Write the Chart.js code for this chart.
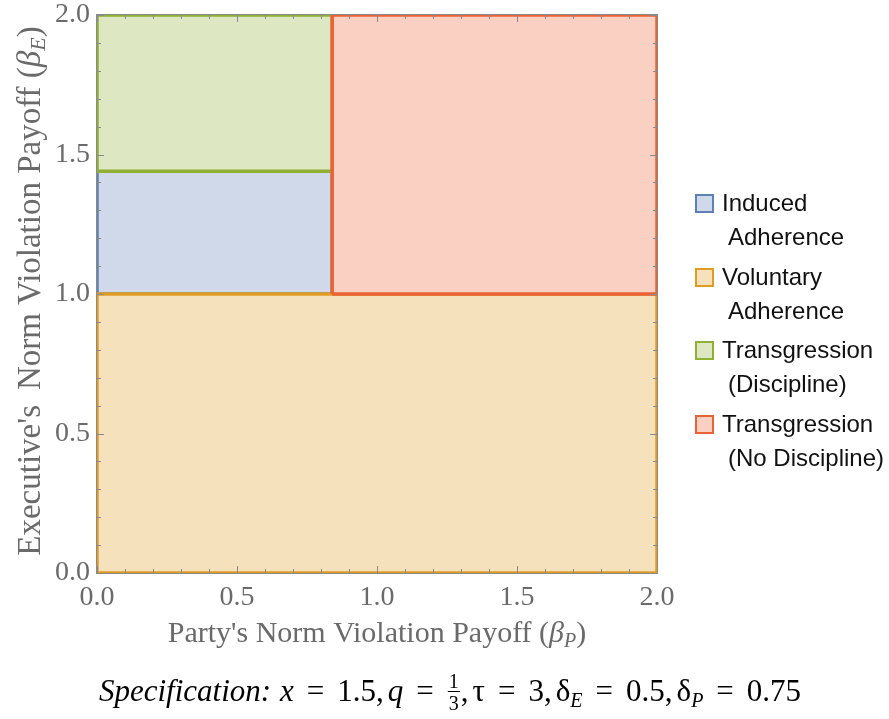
<!DOCTYPE html>
<html>
<head>
<meta charset="utf-8">
<script src="https://cdn.jsdelivr.net/npm/chart.js@4/dist/chart.umd.min.js"></script>
<style>
	html, body { margin: 0; padding: 0; background: #fff; }
	.wrap { position: relative; width: 889px; height: 719px; }
	.wrap canvas { position: absolute; left: 0; top: 0; }
	.legend__item { position: absolute; left: 695px; font: 24px "Liberation Sans", Arial, sans-serif; color: #111; line-height: 34px; }
	.legend__box { position: absolute; left: 0; top: 8px; width: 15px; height: 15px; border: 2px solid; }
	.legend__line { padding-left: 27px; white-space: nowrap; }
	.legend__line + .legend__line { padding-left: 33px; }
</style>
</head>
<body>
<div class="wrap">
	<canvas id="chart" width="889" height="719"></canvas>
	<div class="legend"></div>
</div>
<script>
	// Границы областей (из картинки)
	const AXIS_MAX = 2.0;
	const BETA_P_CUT = 0.84;
	const BETA_E_CUTS = [1.0, 1.44];

	const REGION_NAMES = [['Induced', 'Adherence'], ['Voluntary', 'Adherence'], ['Transgression', '(Discipline)'], ['Transgression', '(No Discipline)']];
	const REGION_X = [
		[0, 0.84, 0.84, 0, 0],
		[0, 2, 2, 0, 0],
		[0, 0.84, 0.84, 0, 0],
		[0.84, 2, 2, 0.84, 0.84]
	];
	const REGION_Y = [
		[1, 1, 1.44, 1.44, 1],
		[0, 0, 1, 1, 0],
		[1.44, 1.44, 2, 2, 1.44],
		[1, 1, 2, 2, 1]
	];
	const REGION_ORDER = [3, 2, 1, 0];

	const LINE_COLORS = ['#5e81b5', '#e19c24', '#8fb032', '#eb6235'];
	const FILL_COLORS = ['#cfd9e9', '#f6e1bd', '#dde7c1', '#f9d0c2'];

	const SERIF = '"Liberation Serif", "Times New Roman", serif';

	let datasets = REGION_NAMES.map((name, index) => ({
		label: name.join(' '),
		data: REGION_X[index].map((x, i) => ({ x: x, y: REGION_Y[index][i] })),
		showLine: true,
		fill: 'shape',
		backgroundColor: FILL_COLORS[index],
		borderColor: LINE_COLORS[index],
		borderWidth: 3.5,
		pointRadius: 0,
		tension: 0,
		order: REGION_ORDER[index]
	}));

	//Рисование текста с разными шрифтами
	function drawRich(ctx, parts, x, y) {
		let widths = parts.map((part) => {
			ctx.font = part.font;
			if (part.frac) {
				return Math.max(ctx.measureText(part.frac[0]).width, ctx.measureText(part.frac[1]).width) + 4;
			}
			return (part.pre || 0) + ctx.measureText(part.t).width + (part.gap || 0);
		});
		let total = widths.reduce((a, b) => a + b, 0);
		let cx = x - total / 2;

		ctx.textAlign = 'left';
		ctx.textBaseline = 'alphabetic';

		parts.forEach((part, index) => {
			ctx.font = part.font;
			ctx.fillStyle = part.color;
			if (part.frac) {
				let mid = cx + widths[index] / 2;
				ctx.textAlign = 'center';
				ctx.fillText(part.frac[0], mid, y - 13);
				ctx.fillText(part.frac[1], mid, y + 9);
				ctx.fillRect(cx + 1, y - 10, widths[index] - 2, 1);
				ctx.textAlign = 'left';
			} else {
				ctx.fillText(part.t, cx + (part.pre || 0), y + (part.dy || 0));
			}
			cx += widths[index];
		});
	}

	function isMajor(v) {
		return Math.abs(v * 2 - Math.round(v * 2)) < 1e-6;
	}

	//Рамка, внутренние засечки и подписи
	const framePlugin = {
		id: 'frame',
		afterDatasetsDraw(chart) {
			let ctx = chart.ctx;
			let area = chart.chartArea;
			let xScale = chart.scales.x;
			let yScale = chart.scales.y;

			ctx.save();
			ctx.strokeStyle = '#8a8a8a';
			ctx.lineWidth = 1;
			ctx.beginPath();

			xScale.ticks.forEach((tick) => {
				let px = Math.round(xScale.getPixelForValue(tick.value)) + 0.5;
				let len = isMajor(tick.value) ? 7 : 4;
				ctx.moveTo(px, area.bottom);
				ctx.lineTo(px, area.bottom - len);
				ctx.moveTo(px, area.top);
				ctx.lineTo(px, area.top + len);
			});

			yScale.ticks.forEach((tick) => {
				let py = Math.round(yScale.getPixelForValue(tick.value)) + 0.5;
				let len = isMajor(tick.value) ? 7 : 4;
				ctx.moveTo(area.left, py);
				ctx.lineTo(area.left + len, py);
				ctx.moveTo(area.right, py);
				ctx.lineTo(area.right - len, py);
			});

			ctx.stroke();
			ctx.strokeRect(area.left - 0.5, area.top - 0.5, area.right - area.left + 1, area.bottom - area.top + 1);
			ctx.restore();
		},
		afterDraw(chart) {
			let ctx = chart.ctx;
			let area = chart.chartArea;
			const gray = '#6a6a6a';

			ctx.save();
			drawRich(ctx, [
				{ t: "Party's Norm Violation Payoff (", font: '30px ' + SERIF, color: gray },
				{ t: 'β', font: 'italic 30px ' + SERIF, color: gray },
				{ t: 'P', font: 'italic 20px ' + SERIF, color: gray, dy: 5 },
				{ t: ')', font: '30px ' + SERIF, color: gray }
			], (area.left + area.right) / 2, 642);

			ctx.save();
			ctx.translate(40, 291);
			ctx.rotate(-Math.PI / 2);
			drawRich(ctx, [
				{ t: "Executive's", font: '33px ' + SERIF, color: gray, gap: 15 },
				{ t: "Norm Violation Payoff (", font: '33px ' + SERIF, color: gray },
				{ t: 'β', font: 'italic 33px ' + SERIF, color: gray },
				{ t: 'E', font: 'italic 22px ' + SERIF, color: gray, dy: 5 },
				{ t: ')', font: '33px ' + SERIF, color: gray }
			], 0, 0);
			ctx.restore();

			const it = 'italic 31px ' + SERIF;
			const rm = '31px ' + SERIF;
			const sub = 'italic 20px ' + SERIF;
			const k = '#000';
			const eq = { t: '=', font: rm, color: k, pre: 13, gap: 13 };
			drawRich(ctx, [
				{ t: 'Specification:', font: it, color: k, gap: 9 },
				{ t: 'x', font: it, color: k },
				eq,
				{ t: '1.5,', font: rm, color: k, gap: 4 },
				{ t: 'q', font: it, color: k },
				eq,
				{ frac: ['1', '3'], font: '20px ' + SERIF, color: k },
				{ t: ',', font: rm, color: k, gap: 4 },
				{ t: 'τ', font: rm, color: k },
				eq,
				{ t: '3,', font: rm, color: k, gap: 4 },
				{ t: 'δ', font: rm, color: k },
				{ t: 'E', font: sub, color: k, dy: 6 },
				eq,
				{ t: '0.5,', font: rm, color: k, gap: 4 },
				{ t: 'δ', font: rm, color: k },
				{ t: 'P', font: sub, color: k, dy: 6 },
				eq,
				{ t: '0.75', font: rm, color: k }
			], 450, 701);
			ctx.restore();
		}
	};

	let tickOptions = {
		stepSize: 0.1,
		autoSkip: false,
		maxRotation: 0,
		color: '#6a6a6a',
		font: { family: SERIF, size: 28 },
		callback: (value) => isMajor(value) ? value.toFixed(1) : ''
	};

	new Chart(document.getElementById('chart'), {
		type: 'scatter',
		data: { datasets: datasets },
		options: {
			responsive: false,
			animation: false,
			layout: { padding: { left: 0, top: 15, right: 232, bottom: 0 } },
			plugins: { legend: { display: false }, tooltip: { enabled: false } },
			scales: {
				x: {
					type: 'linear', min: 0, max: AXIS_MAX,
					grid: { display: false, drawTicks: false }, border: { display: false },
					ticks: Object.assign({ padding: 8 }, tickOptions),
					afterFit: (scale) => { scale.height = 146; scale.paddingLeft = 0; scale.paddingRight = 0; }
				},
				y: {
					type: 'linear', min: 0, max: AXIS_MAX,
					grid: { display: false, drawTicks: false }, border: { display: false },
					ticks: Object.assign({ padding: 7 }, tickOptions),
					afterFit: (scale) => { scale.width = 97; scale.paddingTop = 0; scale.paddingBottom = 0; }
				}
			}
		},
		plugins: [framePlugin]
	});

	//Легенда справа
	let legend = document.querySelector('.legend');
	REGION_NAMES.forEach((name, index) => {
		let item = document.createElement('div');
		item.className = 'legend__item';
		item.style.top = (186 + index * 73.5) + 'px';

		let box = document.createElement('span');
		box.className = 'legend__box';
		box.style.borderColor = LINE_COLORS[index];
		box.style.background = FILL_COLORS[index];
		item.appendChild(box);

		name.forEach((line) => {
			let div = document.createElement('div');
			div.className = 'legend__line';
			div.textContent = line;
			item.appendChild(div);
		});

		legend.appendChild(item);
	});
</script>
</body>
</html>
